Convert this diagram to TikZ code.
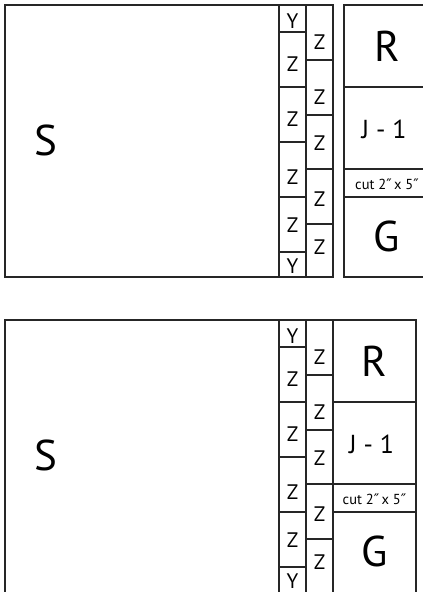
\documentclass[tikz,border=0pt]{standalone}
\usepackage{fontspec}
\setmainfont{PT Sans}
\newfontfamily\primefont{DejaVu Sans}
\newcommand{\inch}{{\primefont\char"2033}}
\begin{document}
\begin{tikzpicture}[x=1pt, y=-1pt,
    cutline/.style={line width=1.3pt, black!85},
    piece/.style={inner sep=0pt, font=\fontsize{21}{21}\selectfont},
    bigpiece/.style={inner sep=0pt, font=\fontsize{43}{43}\selectfont},
    midpiece/.style={inner sep=0pt, font=\fontsize{26}{26}\selectfont},
    note/.style={inner sep=0pt, font=\fontsize{14.5}{14.5}\selectfont}
]
\useasboundingbox (0,0) rectangle (423,592);
\clip (0,0) rectangle (423,592);
% two identical cutting plans, the lower one with the strip butted on
\foreach \dy/\rl/\rr/\bot in {0/344/430/277, 315/333/416/281} {
  \begin{scope}[yshift=-\dy pt]
    \pgfmathsetmacro\cx{(\rl+\rr)/2}
    % main panel
    \draw[cutline] (5,5) rectangle (279,\bot);
    \node[bigpiece] (S\dy) at (46,140) {S};
    % first column of strips
    \draw[cutline] (279,5) rectangle (306,\bot);
    \foreach \y in {32,87,142,197,252}
      \draw[cutline] (279,\y) -- (306,\y);
    \foreach \t/\y [count=\i] in {Y/21, Z/64.5, Z/119.5, Z/177.5, Z/225.5, Y/266}
      \node[piece] (a\i-\dy) at (292.5,\y) {\t};
    % second column of strips
    \draw[cutline] (306,5) rectangle (333,\bot);
    \foreach \y in {60,115,169,224}
      \draw[cutline] (306,\y) -- (333,\y);
    \foreach \y [count=\i] in {42.5, 97.5, 143, 199.5, 247.5}
      \node[piece] (b\i-\dy) at (319.5,\y) {Z};
    % right strip
    \draw[cutline] (\rl,5) rectangle (\rr,\bot);
    \foreach \y in {87,169,197}
      \draw[cutline] (\rl,\y) -- (\rr,\y);
    \node[bigpiece] (R\dy) at (\cx,46) {R};
    \node[midpiece] (J\dy) at (\cx-3,129) {J - 1};
    \node[note] (cut\dy) at (\cx,184) {cut 2\inch\,x 5\inch};
    \node[bigpiece] (G\dy) at (\cx,236) {G};
  \end{scope}
}
\end{tikzpicture}
\end{document}
